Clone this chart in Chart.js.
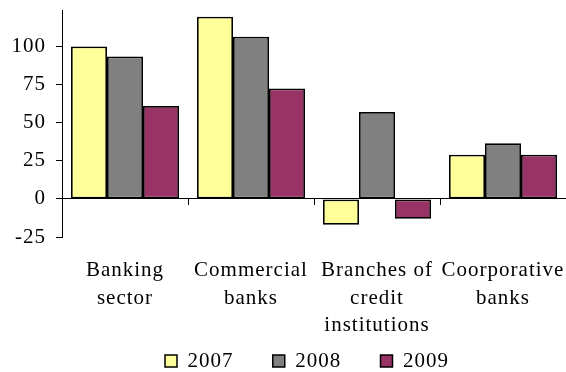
<!DOCTYPE html>
<html><head><meta charset="utf-8">
<script src="https://cdn.jsdelivr.net/npm/chart.js@4"></script>
<style>html,body{margin:0;padding:0;background:#fff}</style>
</head><body>
<canvas id="c" width="566" height="372"></canvas>
<script>
const categories = [['Banking', 'sector'], ['Commercial', 'banks'], ['Branches of', 'credit', 'institutions'], ['Coorporative', 'banks']];
const seriesNames = ['2007', '2008', '2009'];
const values2007 = [100, 119.5, -17, 29];
const values2008 = [93.5, 106.5, 57, 36.5];
const values2009 = [61, 72.5, -13, 29];
const yTickValues = [-25, 0, 25, 50, 75, 100];
const seriesColors = ['#FFFF99', '#808080', '#993366'];

const FONT = { family: "'Liberation Serif', 'Times New Roman', serif", size: 21 };
Chart.defaults.color = '#000';
Chart.defaults.font.family = FONT.family;

const tweak = {
  id: 'tweak',
  beforeLayout(chart) { chart.ctx.letterSpacing = '1px'; },
  beforeDraw(chart) { chart.ctx.letterSpacing = '1px'; },
  afterLayout(chart) {
    const lg = chart.legend;
    const h = lg.bottom - lg.top;
    lg.top = 361 - 8 - 10.5; lg.bottom = lg.top + h;
    lg.left = 165 - 8; lg.right = 566;
  }
};

new Chart(document.getElementById('c'), {
  type: 'bar',
  data: {
    labels: categories,
    datasets: [values2007, values2008, values2009].map((v, i) => ({
      label: seriesNames[i],
      data: v,
      backgroundColor: seriesColors[i],
      borderColor: '#000',
      borderWidth: 1.75,
      borderSkipped: false,
      barPercentage: 1.0,
      categoryPercentage: 0.857
    }))
  },
  options: {
    responsive: false,
    animation: false,
    layout: { padding: 0 },
    plugins: {
      legend: {
        position: 'bottom',
        align: 'start',
        labels: {
          boxWidth: 12, boxHeight: 12, padding: 8, font: FONT, color: '#000',
          generateLabels(chart) {
            const items = Chart.defaults.plugins.legend.labels.generateLabels(chart);
            items.forEach((it, i) => { it.lineWidth = 1.5; if (i < items.length - 1) it.text = it.text + '     '; });
            return items;
          }
        }
      },
      tooltip: { enabled: false }
    },
    scales: {
      x: {
        position: 'bottom',
        grid: { display: false, drawTicks: false },
        border: { display: false },
        ticks: { font: { ...FONT, lineHeight: 1.333 }, padding: 19, maxRotation: 0, autoSkip: false, color: '#000' },
        afterFit(s) { s.height = s.chart.height - 10 - s.chart.legend.height - 227; s.paddingLeft = 0; s.paddingRight = 0; }
      },
      x0: {
        type: 'category',
        axis: 'x',
        position: { y: 0 },
        offset: true,
        grid: { display: true, drawOnChartArea: false, drawTicks: true, tickLength: 6, offset: true, color: '#000', lineWidth: 1 },
        border: { display: true, color: '#000', width: 1 },
        ticks: { display: false }
      },
      y: {
        min: -25,
        max: 124,
        grid: { display: true, drawOnChartArea: false, drawTicks: true, tickLength: 6, color: '#000' },
        border: { display: true, color: '#000', width: 1 },
        ticks: { stepSize: 25, font: FONT, padding: 10, color: '#000' },
        afterBuildTicks(s) { s.ticks = yTickValues.map(v => ({ value: v })); },
        afterFit(s) { s.width = 62; s.paddingTop = 10; s.paddingBottom = 0; }
      }
    }
  },
  plugins: [tweak]
});
</script>
</body></html>
